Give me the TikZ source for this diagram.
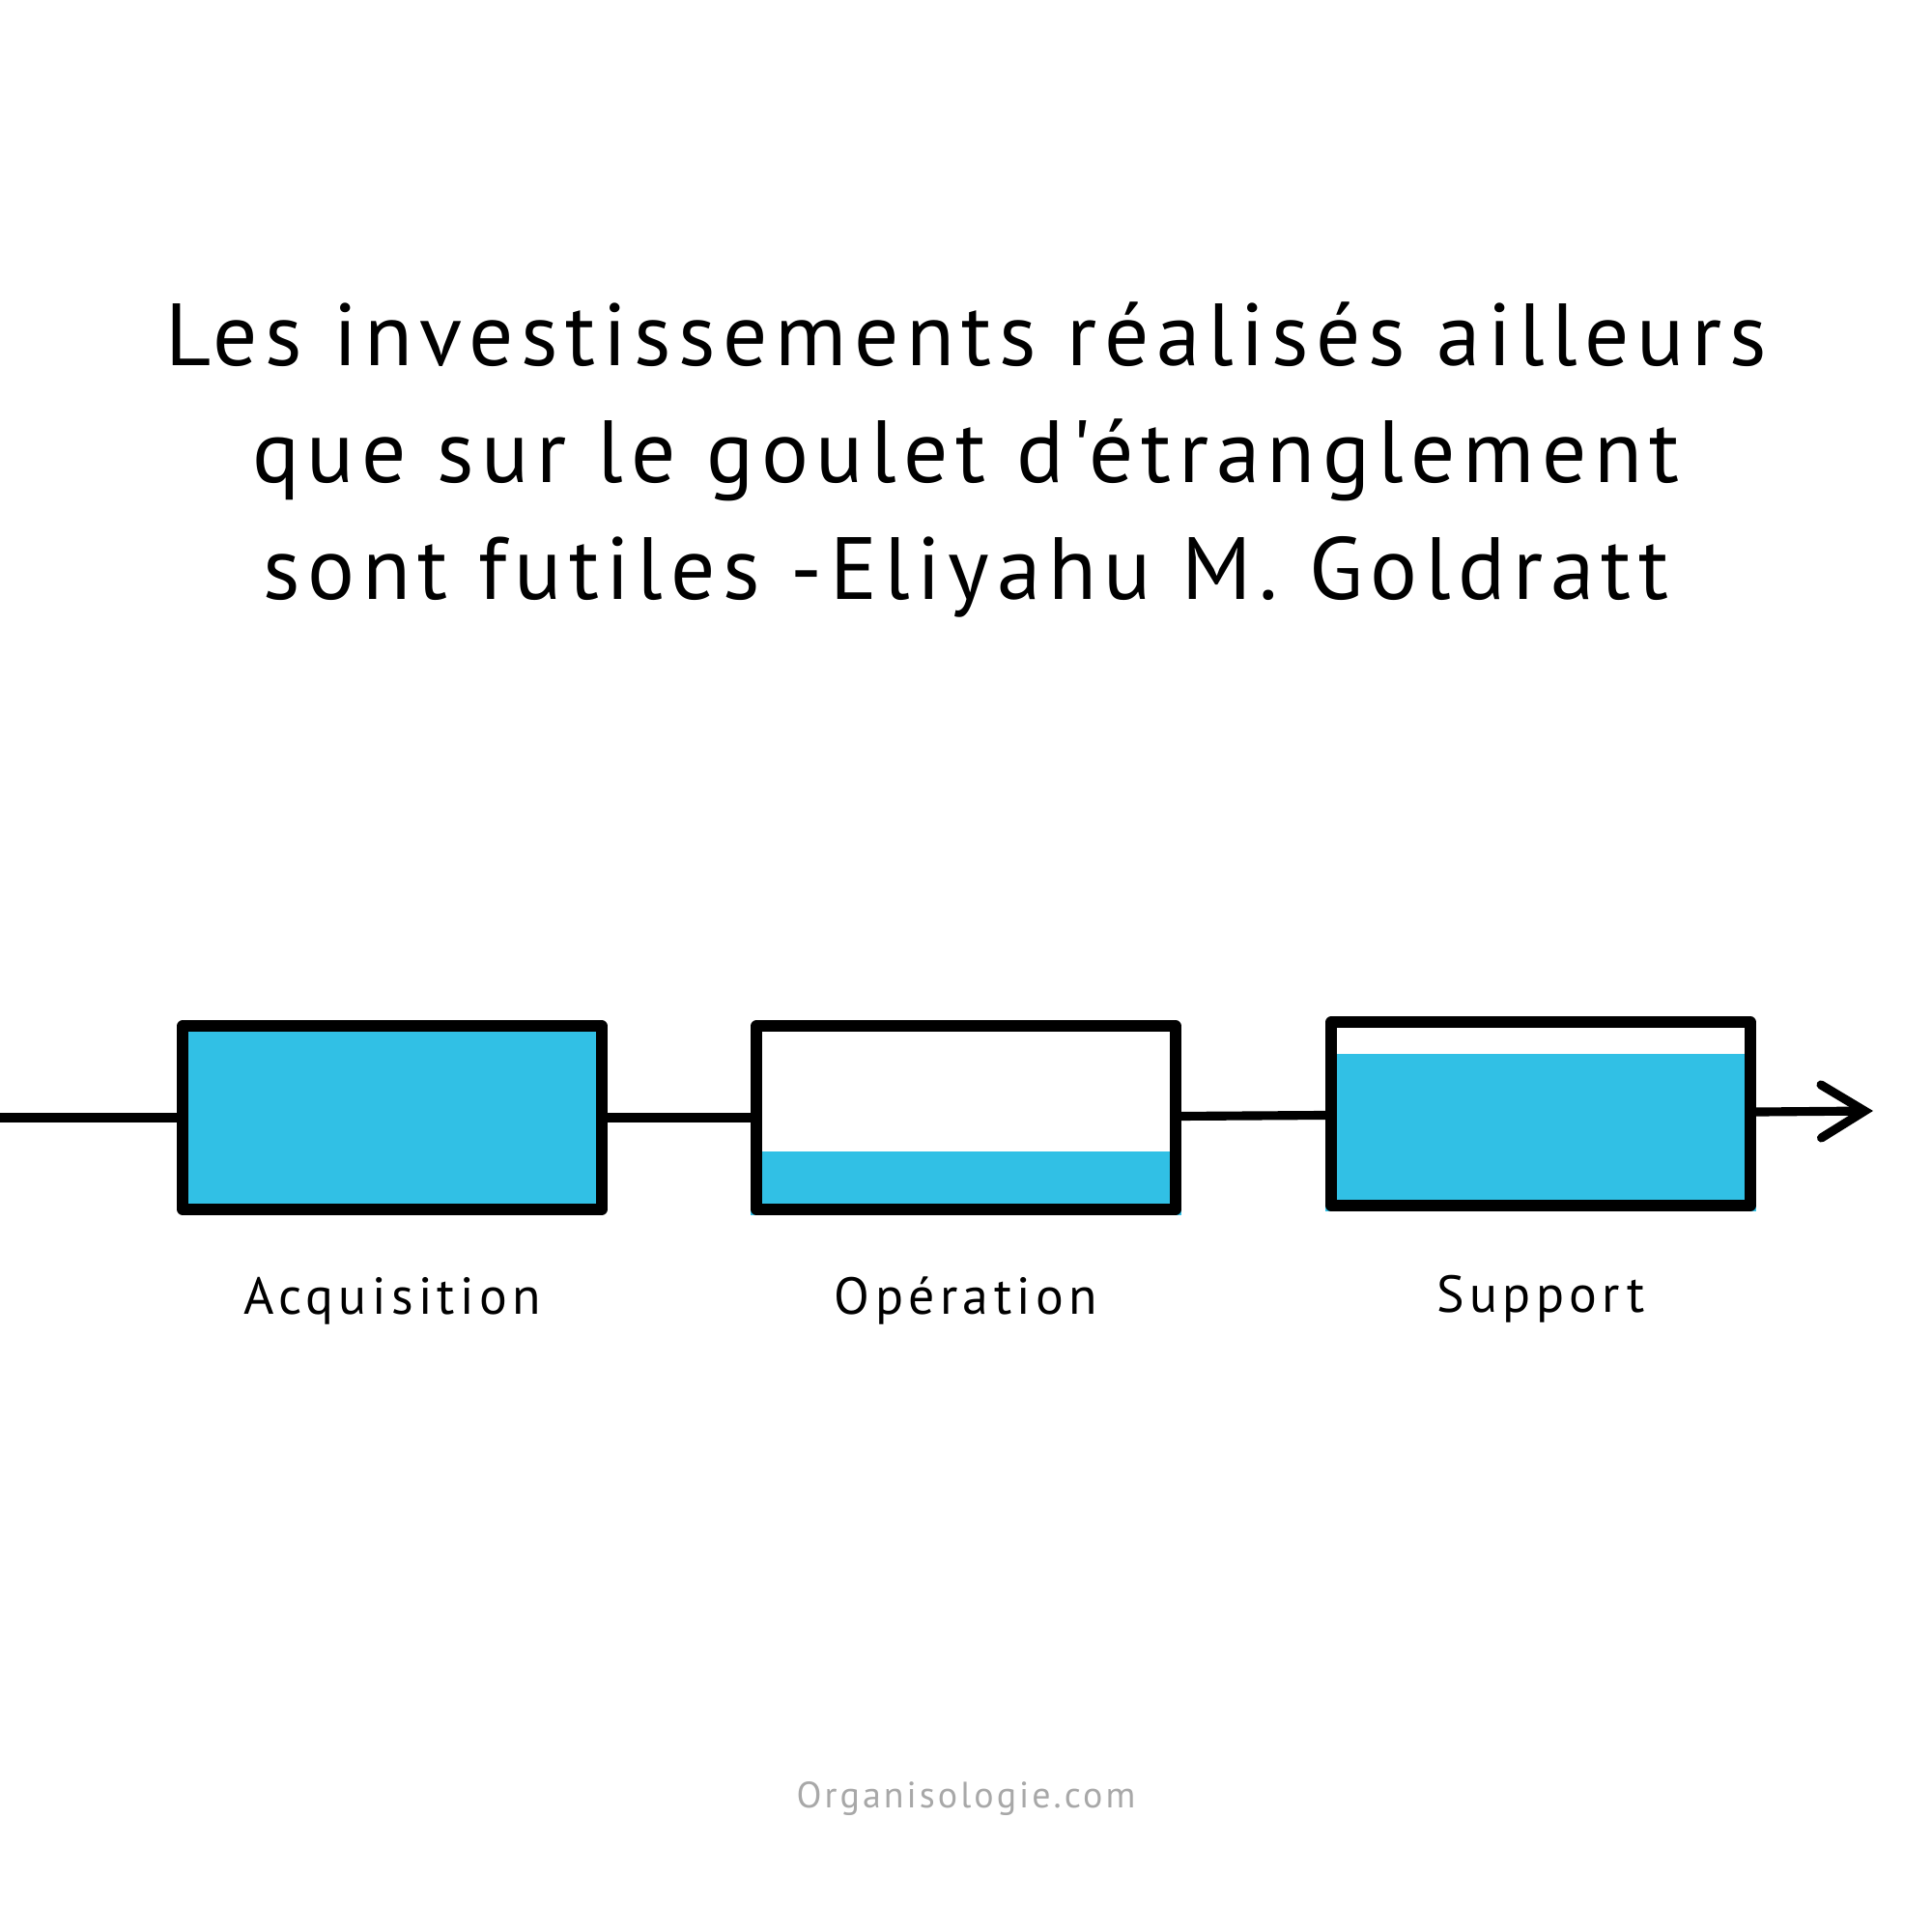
\documentclass[tikz,border=0pt]{standalone}
\usepackage{fontspec}
\setmainfont{PT Sans}
\newfontfamily\titlefont[LetterSpace=8.3]{PT Sans}
\newfontfamily\labelfont[LetterSpace=10]{PT Sans}
\newfontfamily\sitefont[LetterSpace=8]{PT Sans}
\usetikzlibrary{positioning,arrows.meta,calc,backgrounds}
\definecolor{fillblue}{HTML}{31C0E5}
\definecolor{footgray}{HTML}{A8A8A8}
\tikzset{
  stage/.style={draw=black, line width=3.2pt, rectangle, minimum width=4.34cm, minimum height=1.9cm, inner sep=0pt},
  stagelabel/.style={draw=none, font=\labelfont\fontsize{15.3}{18}\selectfont},
}
\begin{document}
\begin{tikzpicture}[line width=2.6pt, line cap=round, line join=round]
\useasboundingbox (0,0) rectangle (20,20);
%%%%%%%%%%%%%%%%%%%%%%%%%%%%%%%%%%%%%%%%%%% HELP LINES
%\draw[help lines] (0,0) grid +(20,20);

%%%%%%%%%%%%%%%%%%%%%%%%%%%%%%%%%%%%%%%%%%% quote
\node[align=center, font=\titlefont\fontsize{26}{34.5}\selectfont](quote) at (10,15.24){Les investissements réalisés ailleurs\\que sur le goulet d'étranglement\\sont futiles -Eliyahu M. Goldratt};

%%%%%%%%%%%%%%%%%%%%%%%%%%%%%%%%%%%%%%%%%%% elements
\node[stage, fill=fillblue] (acq) at (4.06,8.43){};
\node[stage] (ope) at (10.0,8.43){};
\node[stage] (sup) at (15.95,8.47){};
\coordinate (start) at (0,8.43);
\coordinate (end) at (19.39,8.50);

%%%%% fill levels
\begin{scope}[on background layer]
\fill[fillblue] (ope.south west) rectangle ($(ope.south east)+(0,0.66)$);
\fill[fillblue] (sup.south west) rectangle ($(sup.north east)+(0,-0.39)$);
\end{scope}

%%%%% connectors
\draw (start) -- (acq);
\draw (acq) -- (ope);
\draw (ope) -- (sup);
\draw[-{Straight Barb[length=0.45cm, width=0.55cm, line cap=round]}] (sup) -- (end);

%%%%% labels
\node[stagelabel, below=0.48cm of acq](acqname){Acquisition};
\node[stagelabel, below=0.48cm of ope](opename){Opération};
\node[stagelabel, below=0.5cm of sup](supname){Support};

\node[draw=none, text=footgray, font=\sitefont\fontsize{10.8}{13}\selectfont](site) at (10,1.38){Organisologie.com};

\end{tikzpicture}
\end{document}
